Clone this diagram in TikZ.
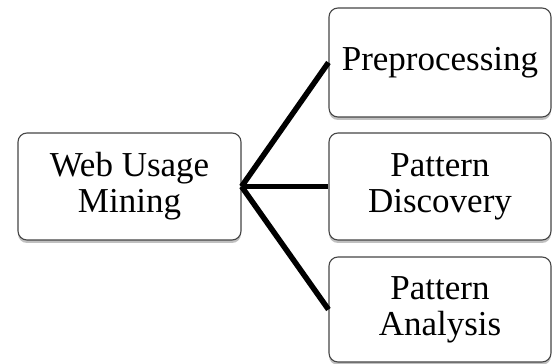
\documentclass[tikz,border=0pt]{standalone}
\usepackage{fontspec}
\setmainfont{Liberation Serif}
\usetikzlibrary{shadows}
\begin{document}
\begin{tikzpicture}[x=1pt,y=1pt,
  stagebox/.style={draw=gray!55!black, line width=1.1pt, fill=white, rounded corners=9pt,
    minimum width=222pt, inner sep=0pt, align=center,
    font=\fontsize{35}{36}\selectfont,
    drop shadow={shadow xshift=0pt, shadow yshift=-3pt, fill=gray!70, opacity=0.7}},
  link/.style={line width=5.5pt, black}]
\useasboundingbox (0,0) rectangle (552,364);
\fill[white] (0,0) rectangle (552,364);
\node[stagebox, minimum width=223pt, minimum height=107pt] (wum) at (129.5,177.5) {Web Usage\\Mining};
\node[stagebox, minimum height=109pt] (pre) at (440,301.5) {Preprocessing};
\node[stagebox, minimum height=107pt] (pd) at (440,177.5) {Pattern\\Discovery};
\node[stagebox, minimum height=105pt] (pa) at (440,54.5) {Pattern\\Analysis};
\draw[link] (wum.east) -- (pre.west);
\draw[link] (wum.east) -- (pd.west);
\draw[link] (wum.east) -- (pa.west);
\end{tikzpicture}
\end{document}
